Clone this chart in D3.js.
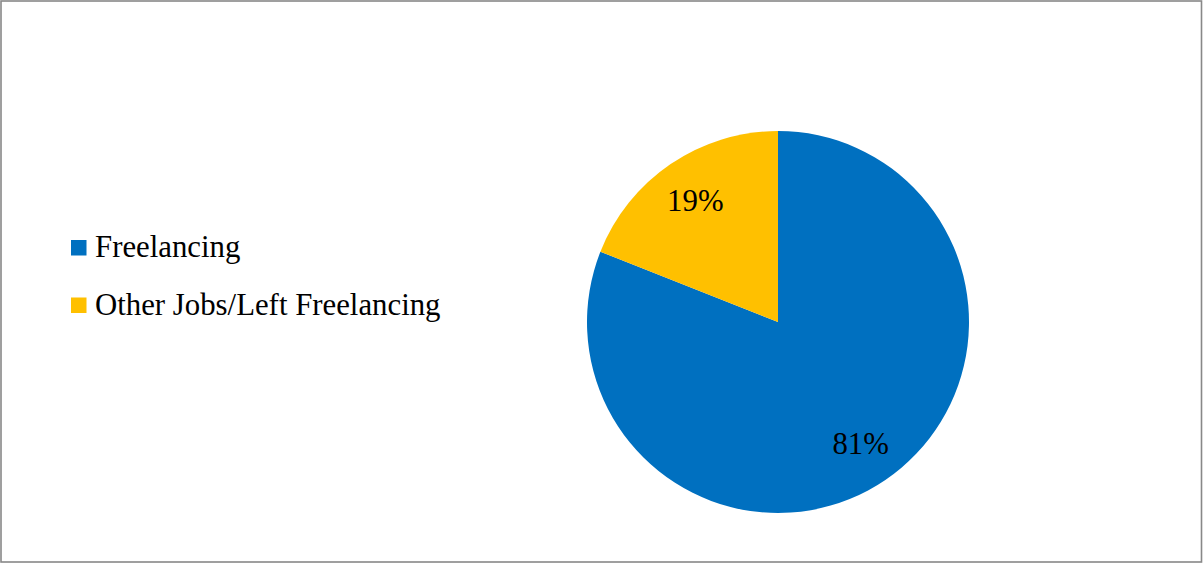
<!DOCTYPE html>
<html>
<head>
<meta charset="utf-8">
<script src="https://cdn.jsdelivr.net/npm/d3@7"></script>
<style>
  html, body { margin: 0; padding: 0; background: #ffffff; }
  svg { display: block; }
  text { font-family: "Liberation Serif", "Times New Roman", serif; fill: #000; }
</style>
</head>
<body>
<svg id="chart" width="1203" height="564"></svg>
<script>
// Share of respondents by current work status
const categories = ["Freelancing", "Other Jobs/Left Freelancing"];
const values = [81, 19];
const colors = ["#0070C0", "#FFC000"];

const width = 1203, height = 564;
const cx = 778, cy = 322, radius = 191;

const svg = d3.select("#chart");

// Chart frame
svg.append("rect")
  .attr("x", 1).attr("y", 1)
  .attr("width", width - 2.5).attr("height", height - 3)
  .attr("fill", "#fff")
  .attr("stroke", "#888888")
  .attr("stroke-width", 1.6);

const color = d3.scaleOrdinal().domain(categories).range(colors);

const pie = d3.pie().sort(null).value(d => d.value);
const data = pie(categories.map((c, i) => ({ name: c, value: values[i] })));

const arc = d3.arc().innerRadius(0).outerRadius(radius);
const labelArc = d3.arc().innerRadius(radius * 0.77).outerRadius(radius * 0.77);

const g = svg.append("g").attr("transform", `translate(${cx},${cy})`);

g.selectAll("path.slice")
  .data(data)
  .join("path")
  .attr("class", "slice")
  .attr("d", arc)
  .attr("fill", d => color(d.data.name));

const total = d3.sum(values);
g.selectAll("text.pct")
  .data(data)
  .join("text")
  .attr("class", "pct")
  .attr("transform", d => `translate(${labelArc.centroid(d)})`)
  .attr("text-anchor", "middle")
  .attr("dy", "0.33em")
  .style("font-size", "30.8px")
  .text(d => Math.round(d.data.value / total * 100) + "%");

// Legend
const legend = svg.append("g").attr("transform", "translate(71,240)");
const item = legend.selectAll("g.item")
  .data(categories)
  .join("g")
  .attr("class", "item")
  .attr("transform", (d, i) => `translate(0,${i * 57.5})`);

item.append("rect")
  .attr("width", 15.5).attr("height", 15.5)
  .attr("fill", d => color(d));

item.append("text")
  .attr("x", 24).attr("y", 17)
  .style("font-size", "30.8px")
  .text(d => d);
</script>
</body>
</html>
